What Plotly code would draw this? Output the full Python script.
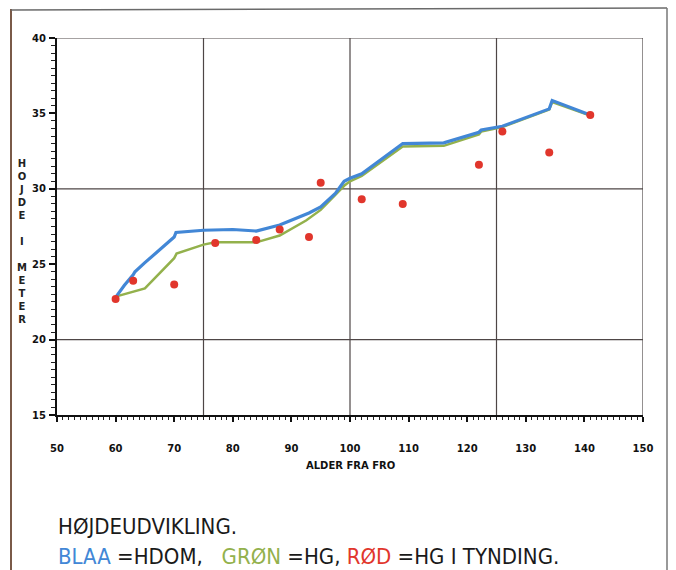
import plotly.graph_objects as go

# ---------------- data ----------------
hdom_age = [60, 61.5, 63, 63.3, 65, 70, 70.3, 75, 80, 84, 88, 89, 93, 95, 97.5, 99, 100, 102, 109, 116, 122, 122.4, 126, 134, 134.5, 141]
hdom_h   = [22.8, 23.6, 24.3, 24.5, 25.1, 26.8, 27.1, 27.25, 27.3, 27.2, 27.6, 27.75, 28.4, 28.8, 29.7, 30.5, 30.7, 31.0, 33.0, 33.05, 33.75, 33.9, 34.15, 35.3, 35.85, 34.9]

hg_age = [60, 63, 65, 70, 70.4, 75, 77, 84, 88, 92.5, 95, 97.5, 99, 100, 102, 109, 116, 122, 122.4, 126, 134, 134.5, 141]
hg_h   = [22.85, 23.2, 23.4, 25.4, 25.7, 26.3, 26.45, 26.45, 26.9, 27.9, 28.6, 29.6, 30.2, 30.5, 30.85, 32.8, 32.85, 33.6, 33.8, 34.1, 35.25, 35.75, 34.85]

tynd_age = [60, 63, 70, 77, 84, 88, 93, 95, 102, 109, 122, 126, 134, 141]
tynd_h   = [22.7, 23.9, 23.65, 26.4, 26.6, 27.3, 26.8, 30.4, 29.3, 29.0, 31.6, 33.8, 32.4, 34.9]

x_ticks = [50, 60, 70, 80, 90, 100, 110, 120, 130, 140, 150]
y_ticks = [15, 20, 25, 30, 35, 40]
x_grid = [75, 100, 125, 150]
y_grid = [20, 30, 40]

title_line1 = "HØJDEUDVIKLING."
y_title = "HOJDE I METER"
x_title = "ALDER FRA FRO"

# ---------------- layout geometry (pixels) ----------------
W, H = 676, 570
L, R, T, B = 57, 643, 38, 415

def px(xp):
    return (xp - L) / (R - L)

def py(yp):
    return (B - yp) / (B - T)

BLUE = "#4287d6"
GREEN = "#93b14c"
RED = "#e1362c"
GRID = "#4e4646"

fig = go.Figure()
fig.add_trace(go.Scatter(x=hg_age, y=hg_h, mode="lines",
                         line=dict(color=GREEN, width=2.5), name="HG"))
fig.add_trace(go.Scatter(x=hdom_age, y=hdom_h, mode="lines",
                         line=dict(color=BLUE, width=3.2), name="HDOM"))
fig.add_trace(go.Scatter(x=tynd_age, y=tynd_h, mode="markers",
                         marker=dict(color=RED, size=8), name="HG I TYNDING"))

shapes = []
for gx in x_grid:
    shapes.append(dict(type="line", xref="x", yref="y", x0=gx, x1=gx, y0=15, y1=40,
                       line=dict(color=GRID, width=1.2), layer="below"))
for gy in y_grid:
    shapes.append(dict(type="line", xref="x", yref="y", x0=50, x1=150, y0=gy, y1=gy,
                       line=dict(color=GRID, width=1.2), layer="below"))
# page frame
shapes.append(dict(type="line", xref="paper", yref="paper", x0=px(11), x1=px(11), y0=py(9), y1=py(572),
                   line=dict(color="#7a5a48", width=2)))
shapes.append(dict(type="line", xref="paper", yref="paper", x0=px(11), x1=px(667), y0=py(10), y1=py(8),
                   line=dict(color="#6a6a6a", width=1.5)))
shapes.append(dict(type="line", xref="paper", yref="paper", x0=px(667), x1=px(667), y0=py(8), y1=py(572),
                   line=dict(color="#777777", width=1.5)))

tick_font = dict(family="DejaVu Sans", size=10, color="#111111", weight="bold")

annotations = [
    dict(xref="paper", yref="paper", x=px(22), y=py(241), xanchor="center", yanchor="middle",
         text="<br>".join(list(y_title)).replace("<br> <br>", "<br> <br>"),
         showarrow=False, font=dict(family="DejaVu Sans", size=10, color="#222222", weight="bold")),
    dict(xref="paper", yref="paper", x=px(350), y=py(465), xanchor="center", yanchor="middle",
         text=x_title, showarrow=False,
         font=dict(family="DejaVu Sans", size=10, color="#111111", weight="bold")),
    dict(xref="paper", yref="paper", x=px(56), y=py(526), xanchor="left", yanchor="middle",
         text=title_line1, showarrow=False,
         font=dict(family="Liberation Sans Narrow, DejaVu Sans Condensed, Arial", size=22, color="#1a1a1a")),
    dict(xref="paper", yref="paper", x=px(56), y=py(556), xanchor="left", yanchor="middle",
         text=(f"<span style='color:{BLUE}'>BLAA</span> =HDOM,&nbsp;&nbsp; "
               f"<span style='color:{GREEN}'>GRØN</span> =HG, "
               f"<span style='color:{RED}'>RØD</span> =HG I TYNDING."),
         showarrow=False,
         font=dict(family="Liberation Sans Narrow, DejaVu Sans Condensed, Arial", size=22, color="#1a1a1a")),
]

fig.update_layout(
    width=W, height=H,
    margin=dict(l=L, r=W - R, t=T, b=H - B, autoexpand=False),
    paper_bgcolor="white", plot_bgcolor="white",
    showlegend=False,
    shapes=shapes, annotations=annotations,
    xaxis=dict(range=[50, 150], tickvals=x_ticks, ticktext=[str(v) for v in x_ticks],
               showgrid=False, zeroline=False, showline=True, linecolor="#111111", linewidth=2,
               ticks="outside", ticklen=5, tickwidth=1.5, tickcolor="#111111",
               tickfont=tick_font, ticklabelstandoff=18,
               minor=dict(dtick=1, tick0=50, ticks="outside", ticklen=3, tickwidth=1, tickcolor="#222222")),
    yaxis=dict(range=[15, 40], tickvals=y_ticks, ticktext=[str(v) for v in y_ticks],
               showgrid=False, zeroline=False, showline=True, linecolor="#111111", linewidth=2,
               ticks="outside", ticklen=6, tickwidth=1.5, tickcolor="#111111",
               tickfont=tick_font, ticklabelstandoff=1,
               minor=dict(dtick=0.5, tick0=15, ticks="outside", ticklen=4, tickwidth=1, tickcolor="#222222")),
)

fig.write_html("out.html")
